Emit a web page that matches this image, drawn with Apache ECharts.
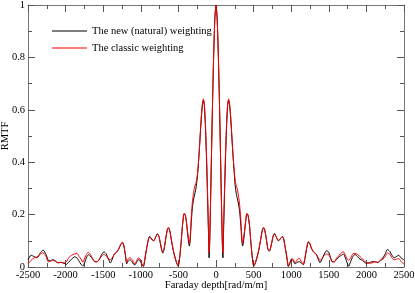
<!DOCTYPE html>
<html>
<head>
<meta charset="utf-8">
<script src="https://cdn.jsdelivr.net/npm/echarts@6/dist/echarts.min.js"></script>
<style>
html,body{margin:0;padding:0;background:#fff;}
#c{width:415px;height:293px;}
</style>
</head>
<body>
<div id="c"></div>
<script>
// Faraday depth grid [rad/m/m]
const depth = [
-2500,-2460,-2420,-2380,-2340,-2300,-2260,-2230,-2200,-2170,-2140,-2100,-2060,-2020,-1990,-1960,-1920,-1880,-1850,-1820,
-1795,-1770,-1745,-1720,-1695,-1670,-1640,-1610,-1580,-1550,-1520,-1490,-1460,-1430,-1405,-1380,-1350,-1320,-1290,-1265,
-1245,-1225,-1205,-1188,-1170,-1145,-1120,-1100,-1078,-1055,-1030,-1010,-990,-965,-945,-920,-900,-885,-865,-845,
-828,-805,-780,-760,-740,-720,-708,-690,-665,-645,-632,-615,-595,-570,-545,-520,-502,-485,-465,-445,
-425,-410,-395,-380,-365,-355,-345,-330,-315,-300,-285,-270,-255,-240,-225,-210,-195,-180,-168,-155,
-140,-125,-110,-100,-92,-84,-75,-60,-45,-30,-15,0,
15,30,45,60,75,84,92,100,110,125,140,155,168,180,195,210,225,240,255,270,
285,300,315,330,345,355,365,380,395,410,425,445,465,485,502,520,545,570,595,615,
632,645,665,690,708,720,740,760,778,800,828,845,865,887,900,920,945,962,985,1007,
1030,1051,1080,1108,1135,1161,1185,1205,1228,1245,1270,1300,1330,1360,1383,1410,1440,1470,1495,1520,
1545,1575,1605,1640,1670,1695,1720,1745,1765,1790,1820,1850,1880,1915,1950,1990,2030,2070,2110,2150,
2190,2220,2250,2280,2310,2340,2370,2400,2430,2460,2500
];
// The new (natural) weighting
const rmtfNew = [
0.027,0.045,0.040,0.035,0.052,0.065,0.048,0.025,0.024,0.028,0.024,0.016,0.018,0.014,0.010,0.018,0.030,0.039,0.035,0.022,
0.010,0.004,0.018,0.038,0.047,0.042,0.030,0.020,0.020,0.030,0.048,0.058,0.050,0.030,0.015,0.030,0.050,0.056,0.070,0.087,
0.093,0.080,0.045,0.012,0.022,0.028,0.022,0.012,0.008,0.018,0.028,0.025,0.012,0.002,0.030,0.075,0.105,0.116,0.112,0.103,
0.100,0.112,0.127,0.118,0.090,0.062,0.053,0.068,0.115,0.145,0.150,0.138,0.105,0.065,0.035,0.012,0.003,0.030,0.090,0.160,
0.203,0.200,0.175,0.135,0.095,0.080,0.095,0.165,0.225,0.255,0.275,0.295,0.325,0.370,0.430,0.500,0.570,0.620,0.635,0.615,
0.530,0.400,0.240,0.130,0.035,0.090,0.210,0.430,0.640,0.820,0.950,1.000,
0.950,0.820,0.640,0.430,0.210,0.090,0.035,0.130,0.240,0.400,0.530,0.615,0.635,0.620,0.570,0.500,0.430,0.370,0.310,0.280,
0.260,0.240,0.210,0.160,0.095,0.080,0.095,0.135,0.175,0.203,0.198,0.160,0.090,0.030,0.003,0.012,0.035,0.065,0.105,0.138,
0.150,0.145,0.115,0.068,0.060,0.065,0.090,0.118,0.128,0.115,0.100,0.103,0.112,0.116,0.108,0.075,0.030,0.002,0.015,0.030,
0.022,0.012,0.018,0.020,0.015,0.008,0.035,0.070,0.095,0.090,0.070,0.056,0.050,0.030,0.016,0.030,0.050,0.062,0.058,0.040,
0.020,0.020,0.030,0.040,0.045,0.050,0.035,0.015,0.003,0.020,0.040,0.048,0.040,0.030,0.025,0.015,0.015,0.020,0.020,0.017,
0.027,0.035,0.050,0.067,0.060,0.045,0.035,0.040,0.045,0.035,0.027
];
// The classic weighting
const rmtfClassic = [
0.012,0.025,0.035,0.038,0.048,0.055,0.040,0.020,0.022,0.027,0.022,0.016,0.018,0.015,0.020,0.035,0.045,0.050,0.052,0.040,
0.030,0.018,0.035,0.050,0.056,0.048,0.032,0.020,0.020,0.030,0.042,0.048,0.042,0.030,0.028,0.035,0.050,0.057,0.072,0.087,
0.095,0.082,0.048,0.018,0.030,0.036,0.030,0.020,0.012,0.025,0.035,0.030,0.015,0.003,0.035,0.075,0.103,0.114,0.110,0.102,
0.100,0.112,0.126,0.118,0.092,0.064,0.057,0.070,0.115,0.145,0.150,0.140,0.108,0.068,0.038,0.015,0.005,0.032,0.090,0.160,
0.205,0.200,0.178,0.140,0.105,0.090,0.110,0.185,0.245,0.280,0.305,0.318,0.335,0.375,0.435,0.505,0.575,0.625,0.642,0.625,
0.545,0.420,0.260,0.150,0.055,0.100,0.215,0.430,0.640,0.820,0.950,1.000,
0.950,0.820,0.640,0.430,0.215,0.100,0.055,0.150,0.260,0.420,0.545,0.625,0.642,0.625,0.575,0.505,0.435,0.375,0.330,0.310,
0.295,0.270,0.235,0.180,0.110,0.090,0.105,0.140,0.178,0.205,0.200,0.160,0.090,0.032,0.005,0.015,0.038,0.068,0.108,0.140,
0.150,0.145,0.115,0.070,0.063,0.068,0.092,0.118,0.127,0.115,0.102,0.104,0.112,0.115,0.106,0.075,0.035,0.003,0.020,0.032,
0.028,0.015,0.028,0.033,0.020,0.010,0.040,0.072,0.097,0.092,0.072,0.058,0.050,0.035,0.025,0.032,0.045,0.050,0.048,0.035,
0.020,0.020,0.035,0.045,0.055,0.058,0.045,0.030,0.025,0.035,0.050,0.052,0.048,0.040,0.030,0.018,0.015,0.015,0.020,0.018,
0.025,0.030,0.040,0.053,0.050,0.035,0.027,0.030,0.032,0.022,0.010
];
const xTicks = [-2500,-2000,-1500,-1000,-500,0,500,1000,1500,2000,2500];
const yTicks = [0,0.2,0.4,0.6,0.8,1];
const seriesNames = ['The new (natural) weighting','The classic weighting'];

const FONT = 'Liberation Serif';
const axisCol = '#777';
const chart = echarts.init(document.getElementById('c'), null, {renderer:'canvas'});
const frameAxis = (extra) => Object.assign({
  axisLine:{show:true, onZero:false, lineStyle:{color:axisCol, width:1}},
  axisTick:{show:true, inside:true, length:7, lineStyle:{color:'#555'}},
  minorTick:{show:true, splitNumber:2, length:4, lineStyle:{color:'#555'}},
  splitLine:{show:false},
}, extra);

chart.setOption({
  animation:false,
  backgroundColor:'#fff',
  grid:{left:28, right:11, top:5, bottom:26, containLabel:false, outerBoundsMode:'none'},
  legend:{
    left:47, top:19, orient:'vertical',
    icon:'rect', itemWidth:35, itemHeight:1.2, itemGap:3,
    textStyle:{fontFamily:FONT, fontSize:10.5, color:'#000', lineHeight:14, padding:[0,0,0,0]},
    data:seriesNames
  },
  xAxis:[
    frameAxis({type:'value', min:xTicks[0], max:xTicks[xTicks.length-1], interval:500, position:'bottom',
      name:'Faraday depth[rad/m/m]', nameLocation:'middle', nameGap:13, nameMoveOverlap:false,
      nameTextStyle:{fontFamily:FONT, fontSize:10.5, color:'#000'},
      axisLabel:{fontFamily:FONT, fontSize:10.5, color:'#000', margin:3,
        formatter:(v)=> xTicks.includes(v) ? String(v) : ''}}),
    frameAxis({type:'value', min:xTicks[0], max:xTicks[xTicks.length-1], interval:500, position:'top',
      axisLabel:{show:false}})
  ],
  yAxis:[
    frameAxis({type:'value', min:yTicks[0], max:yTicks[yTicks.length-1], interval:0.2, position:'left',
      name:'RMTF', nameLocation:'middle', nameGap:17, nameMoveOverlap:false,
      nameTextStyle:{fontFamily:FONT, fontSize:10.5, color:'#000'},
      axisLabel:{fontFamily:FONT, fontSize:10.5, color:'#000', margin:3}}),
    frameAxis({type:'value', min:yTicks[0], max:yTicks[yTicks.length-1], interval:0.2, position:'right',
      axisLabel:{show:false}})
  ],
  series:[
    {name:seriesNames[0], type:'line', xAxisIndex:0, yAxisIndex:0, showSymbol:false, symbol:'none',
      color:'#000', lineStyle:{color:'#000', width:1}, smooth:0.2,
      data: depth.map((d,i)=>[d, rmtfNew[i]])},
    {name:seriesNames[1], type:'line', xAxisIndex:0, yAxisIndex:0, showSymbol:false, symbol:'none',
      color:'#ff0000', lineStyle:{color:'#ff0000', width:1}, smooth:0.2,
      data: depth.map((d,i)=>[d, rmtfClassic[i]])}
  ]
});
</script>
</body>
</html>
